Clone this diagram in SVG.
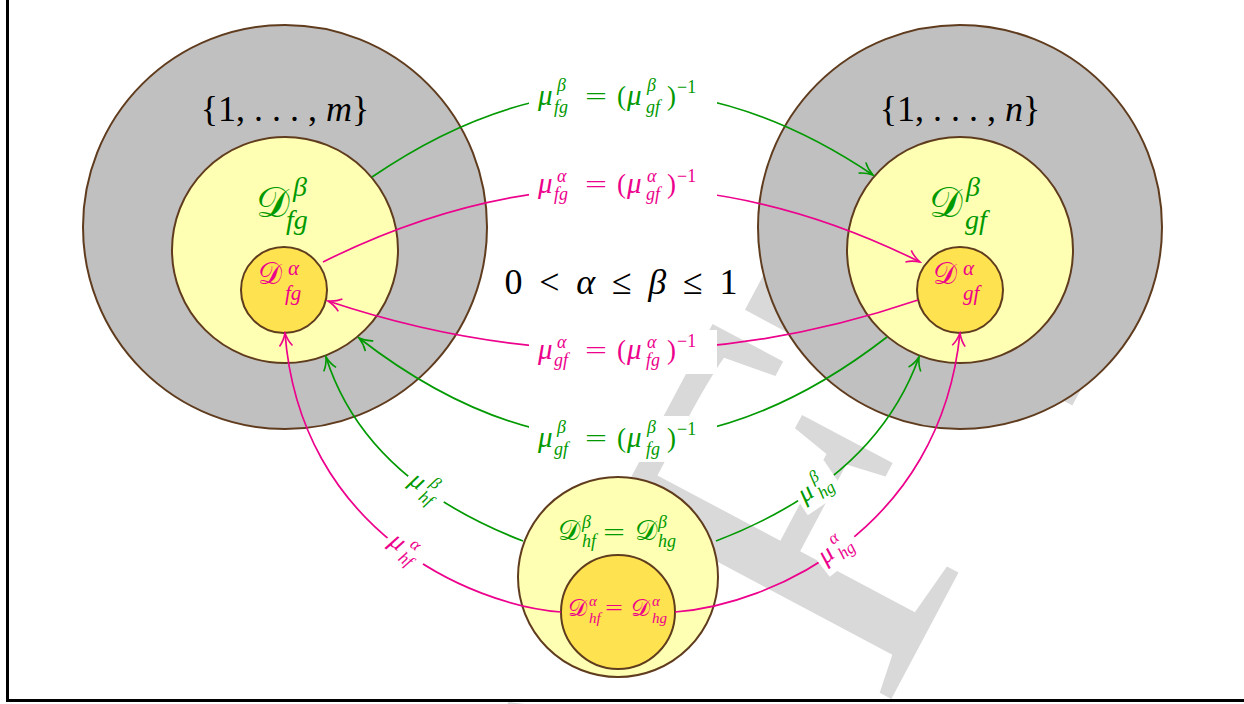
<svg xmlns="http://www.w3.org/2000/svg" width="1244" height="704" viewBox="0 0 1244 704">
<defs>
<style>
.t{font-family:"Liberation Serif","DejaVu Serif",serif}
.i{font-family:"Liberation Serif","DejaVu Serif",serif;font-style:italic}
.c{font-family:"DejaVu Serif","DejaVu Sans","Noto Sans",serif}
.g{fill:#009900}
.p{fill:#ec008c}
.k{fill:#000}
.outer{fill:#c0c0c0;stroke:#603c1e;stroke-width:2}
.mid{fill:#ffffb3;stroke:#603c1e;stroke-width:2}
.inn{fill:#ffe24f;stroke:#603c1e;stroke-width:2}
.lg{fill:none;stroke:#009900;stroke-width:1.7}
.lp{fill:none;stroke:#ec008c;stroke-width:1.7}
.box{fill:#fff}
</style>
<marker id="ag" viewBox="-15 -8 17 16" markerWidth="17" markerHeight="16" refX="0" refY="0" orient="auto" markerUnits="userSpaceOnUse">
<path d="M-13,-6.5 C-9,-3 -3,-0.8 0,0 C-3,0.8 -9,3 -13,6.5" fill="none" stroke="#009900" stroke-width="1.6"/>
</marker>
<marker id="ap" viewBox="-15 -8 17 16" markerWidth="17" markerHeight="16" refX="0" refY="0" orient="auto" markerUnits="userSpaceOnUse">
<path d="M-13,-6.5 C-9,-3 -3,-0.8 0,0 C-3,0.8 -9,3 -13,6.5" fill="none" stroke="#ec008c" stroke-width="1.6"/>
</marker>
</defs>
<rect x="0" y="0" width="1244" height="704" fill="#fff"/>
<g id="watermark">
<text transform="translate(377.4,1665.6) rotate(-62)" font-family="Liberation Serif, DejaVu Serif, serif" font-size="510" fill="#d9d9d9" style="font-kerning:none">DRAF<tspan dy="22">T</tspan></text>
</g>
<path d="M7.5,0 V700.5 H1244" fill="none" stroke="#000" stroke-width="3"/>

<g id="node-m">
<circle class="outer" cx="285" cy="227" r="202"/>
<text class="t k" x="285" y="121" font-size="36" text-anchor="middle">{1, . . . , <tspan font-style="italic">m</tspan>}</text>
</g>
<g id="node-Dfg-beta">
<circle class="mid" cx="285" cy="250" r="113"/>
<text class="c g" x="256" y="217" font-size="42">𝒟</text>
<text class="i g" x="293" y="196" font-size="28">β</text>
<text class="i g" x="286" y="229" font-size="28">fg</text>
</g>
<g id="node-Dfg-alpha">
<circle class="inn" cx="284" cy="290" r="43"/>
<text class="c p" x="258" y="284" font-size="30">𝒟</text>
<text class="i p" x="288" y="275" font-size="21">α</text>
<text class="i p" x="285" y="300" font-size="21">fg</text>
</g>
<g id="node-n">
<circle class="outer" cx="960" cy="227" r="202"/>
<text class="t k" x="960" y="121" font-size="36" text-anchor="middle">{1, . . . , <tspan font-style="italic">n</tspan>}</text>
</g>
<g id="node-Dgf-beta">
<circle class="mid" cx="960" cy="250" r="113"/>
<text class="c g" x="929" y="217" font-size="42">𝒟</text>
<text class="i g" x="966" y="196" font-size="28">β</text>
<text class="i g" x="965" y="229" font-size="28">gf</text>
</g>
<g id="node-Dgf-alpha">
<circle class="inn" cx="960" cy="290" r="43"/>
<text class="c p" x="933" y="284" font-size="30">𝒟</text>
<text class="i p" x="963" y="275" font-size="21">α</text>
<text class="i p" x="963" y="300" font-size="21">gf</text>
</g>
<g id="node-Dh-beta">
<circle class="mid" cx="618" cy="577" r="100"/>
<text class="c g" x="558" y="540" font-size="28">𝒟</text>
<text class="i g" x="582" y="528" font-size="18">β</text>
<text class="i g" x="582" y="547" font-size="18">hf</text>
<text class="t g" x="603" y="540" font-size="24" textLength="22" lengthAdjust="spacingAndGlyphs">=</text>
<text class="c g" x="635" y="540" font-size="28">𝒟</text>
<text class="i g" x="658" y="528" font-size="18">β</text>
<text class="i g" x="658" y="547" font-size="18">hg</text>
</g>
<g id="node-Dh-alpha">
<circle class="inn" cx="618" cy="612" r="57"/>
</g>

<g id="connectors">
<path class="lg" d="M372,177 Q622,6 873,175" marker-end="url(#ag)"/>
<path class="lp" d="M323,262 Q621,113 920,262" marker-end="url(#ap)"/>
<path class="lp" d="M918,300 Q624,400 328,301" marker-end="url(#ap)"/>
<path class="lg" d="M887,337 Q622,542 359,338" marker-end="url(#ag)"/>
<path class="lg" d="M523,541 Q365,480 326,357" marker-end="url(#ag)"/>
<path class="lp" d="M561,612 C470,605 300,530 285,333" marker-end="url(#ap)"/>
<path class="lg" d="M716,541 Q875,480 919,357" marker-end="url(#ag)"/>
<path class="lp" d="M675,612 C770,605 940,530 960,333" marker-end="url(#ap)"/>
</g>

<g id="node-Dh-alpha-label">
<text class="c p" x="568" y="616" font-size="24">𝒟</text>
<text class="i p" x="589" y="606" font-size="15">α</text>
<text class="i p" x="589" y="623" font-size="15">hf</text>
<text class="t p" x="605" y="615" font-size="20" textLength="18" lengthAdjust="spacingAndGlyphs">=</text>
<text class="c p" x="631" y="616" font-size="24">𝒟</text>
<text class="i p" x="652" y="606" font-size="15">α</text>
<text class="i p" x="652" y="623" font-size="15">hg</text>
</g>

<g id="labels">
<text class="t k" x="621" y="294" font-size="36" text-anchor="middle" textLength="233">0 &lt; <tspan font-style="italic">α</tspan> ≤ <tspan font-style="italic">β</tspan> ≤ 1</text>

<g id="label-mu-beta-fg">
<rect class="box" x="529" y="74" width="188" height="46"/>
<text class="i g" x="538" y="105" font-size="29">μ</text>
<text class="i g" x="557" y="91" font-size="18">β</text>
<text class="i g" x="554" y="113" font-size="18">fg</text>
<text class="t g" x="585" y="105" font-size="26" textLength="22" lengthAdjust="spacingAndGlyphs">=</text>
<text class="t g" x="617" y="105" font-size="27">(</text>
<text class="i g" x="627" y="105" font-size="29">μ</text>
<text class="i g" x="647" y="91" font-size="18">β</text>
<text class="i g" x="646" y="113" font-size="18">gf</text>
<text class="t g" x="667" y="105" font-size="27">)</text>
<text class="t g" x="677" y="93" font-size="18">−1</text>
</g>
<g id="label-mu-alpha-fg">
<rect class="box" x="529" y="163" width="188" height="45"/>
<text class="i p" x="538" y="193" font-size="29">μ</text>
<text class="i p" x="557" y="182" font-size="18">α</text>
<text class="i p" x="554" y="200" font-size="18">fg</text>
<text class="t p" x="585" y="193" font-size="26" textLength="22" lengthAdjust="spacingAndGlyphs">=</text>
<text class="t p" x="617" y="193" font-size="27">(</text>
<text class="i p" x="627" y="193" font-size="29">μ</text>
<text class="i p" x="647" y="182" font-size="18">α</text>
<text class="i p" x="646" y="200" font-size="18">gf</text>
<text class="t p" x="667" y="193" font-size="27">)</text>
<text class="t p" x="677" y="182" font-size="18">−1</text>
</g>
<g id="label-mu-alpha-gf">
<rect class="box" x="529" y="330" width="188" height="44"/>
<text class="i p" x="538" y="359" font-size="29">μ</text>
<text class="i p" x="557" y="348" font-size="18">α</text>
<text class="i p" x="554" y="366" font-size="18">gf</text>
<text class="t p" x="585" y="359" font-size="26" textLength="22" lengthAdjust="spacingAndGlyphs">=</text>
<text class="t p" x="617" y="359" font-size="27">(</text>
<text class="i p" x="627" y="359" font-size="29">μ</text>
<text class="i p" x="647" y="348" font-size="18">α</text>
<text class="i p" x="646" y="366" font-size="18">fg</text>
<text class="t p" x="667" y="359" font-size="27">)</text>
<text class="t p" x="677" y="347" font-size="18">−1</text>
</g>
<g id="label-mu-beta-gf">
<rect class="box" x="529" y="416" width="188" height="46"/>
<text class="i g" x="538" y="447" font-size="29">μ</text>
<text class="i g" x="557" y="433" font-size="18">β</text>
<text class="i g" x="554" y="455" font-size="18">gf</text>
<text class="t g" x="585" y="447" font-size="26" textLength="22" lengthAdjust="spacingAndGlyphs">=</text>
<text class="t g" x="617" y="447" font-size="27">(</text>
<text class="i g" x="627" y="447" font-size="29">μ</text>
<text class="i g" x="647" y="433" font-size="18">β</text>
<text class="i g" x="646" y="455" font-size="18">fg</text>
<text class="t g" x="667" y="447" font-size="27">)</text>
<text class="t g" x="677" y="435" font-size="18">−1</text>
</g>

<g id="label-mu-beta-hf" transform="translate(426,489) rotate(36)">
<rect class="box" x="-22" y="-19" width="44" height="37"/>
<text class="i g" x="-18" y="6" font-size="26">μ</text>
<text class="i g" x="0" y="-5" font-size="17">β</text>
<text class="i g" x="-1" y="13" font-size="17">hf</text>
</g>
<g id="label-mu-alpha-hf" transform="translate(406,550) rotate(38)">
<rect class="box" x="-22" y="-19" width="44" height="37"/>
<text class="i p" x="-18" y="6" font-size="26">μ</text>
<text class="i p" x="0" y="-5" font-size="17">α</text>
<text class="i p" x="-1" y="13" font-size="17">hf</text>
</g>
<g id="label-mu-beta-hg" transform="translate(816,488) rotate(-34)">
<rect class="box" x="-22" y="-19" width="44" height="37"/>
<text class="i g" x="-18" y="6" font-size="26">μ</text>
<text class="i g" x="0" y="-5" font-size="17">β</text>
<text class="i g" x="-1" y="13" font-size="17">hg</text>
</g>
<g id="label-mu-alpha-hg" transform="translate(836,549) rotate(-38)">
<rect class="box" x="-22" y="-19" width="44" height="37"/>
<text class="i p" x="-18" y="6" font-size="26">μ</text>
<text class="i p" x="0" y="-5" font-size="17">α</text>
<text class="i p" x="-1" y="13" font-size="17">hg</text>
</g>
</g>
</svg>
